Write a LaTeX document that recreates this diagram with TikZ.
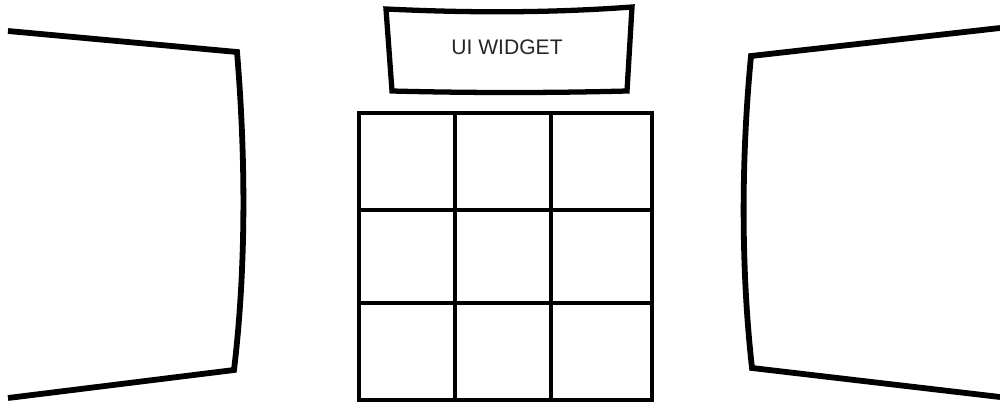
\documentclass[tikz,border=0pt]{standalone}
\usepackage{fontspec}
\setmainfont{Liberation Sans}
\usetikzlibrary{positioning}
\tikzset{
  panel/.style={draw=black, line width=3.3pt, line join=miter},
  frame/.style={draw=black, line width=3pt, line join=miter},
  gridline/.style={draw=black, line width=1.9pt, line cap=rect},
  label/.style={font=\fontsize{12}{14}\selectfont, text=black!85}
}

\begin{document}
\begin{tikzpicture}[x=0.02cm, y=-0.02cm]

  \useasboundingbox (0,0) rectangle (1000,403);

  % side screens
  \draw[panel] (8,31) -- (237,52) .. controls (246,160) and (246,270) .. (234,370) -- (8,398);
  \draw[panel] (1000,28) -- (751,56) .. controls (741,160) and (741,270) .. (752,368) -- (1000,397);

  % widget on top
  \node[label] (widget) at (507,47) {UI WIDGET};
  \draw[frame] (386,9) .. controls (470,13) and (550,13) .. (632,7)
    -- (627,91) .. controls (550,93) and (470,93) .. (392,91) -- cycle;

  % 3x3 grid
  \coordinate (gridnw) at (359,113);
  \coordinate (gridse) at (652,400);
  \draw[gridline] (gridnw) rectangle (gridse);
  \foreach \gx in {455,551}
    \draw[gridline] (\gx,113) -- (\gx,400);
  \foreach \gy in {210,303}
    \draw[gridline] (359,\gy) -- (652,\gy);

\end{tikzpicture}
\end{document}
